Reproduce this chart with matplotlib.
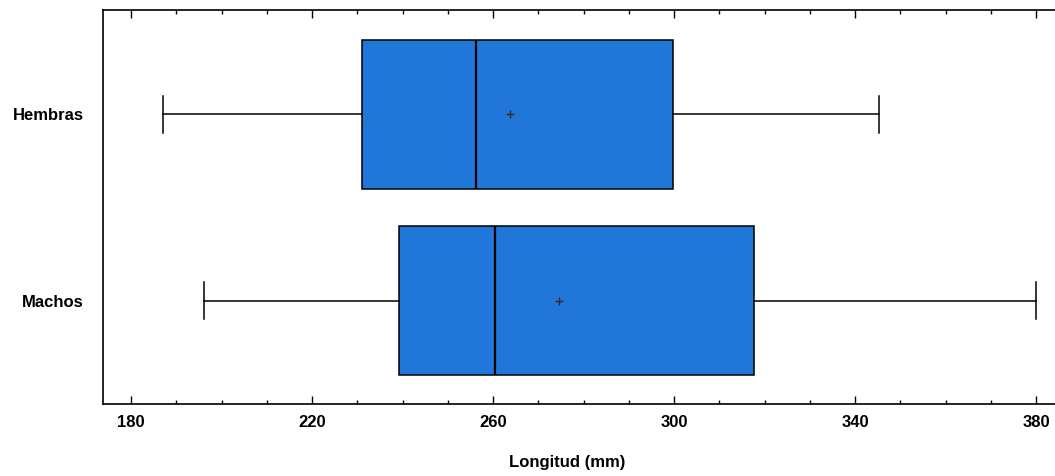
import matplotlib
matplotlib.use("Agg")
import matplotlib.pyplot as plt
from matplotlib.ticker import MultipleLocator

plt.rcParams['font.family'] = ['Liberation Sans', 'DejaVu Sans']

categories = ["Machos", "Hembras"]
whisker_low = [196.2, 187.1]
q1 = [239.1, 231.1]
median = [260.3, 256.3]
q3 = [317.6, 299.7]
whisker_high = [380.0, 345.3]
mean = [274.5, 263.8]
x_ticks = [180, 220, 260, 300, 340, 380]

stats = []
for i, c in enumerate(categories):
    stats.append(dict(label=c, whislo=whisker_low[i], q1=q1[i], med=median[i],
                      q3=q3[i], whishi=whisker_high[i], mean=mean[i], fliers=[]))

fig = plt.figure(figsize=(10.55, 4.76), dpi=100)
ax = fig.add_axes([103/1055, 1 - 404/476, (1058 - 103)/1055, 394/476])

lw = 1.1
ax.bxp(stats, positions=[0, 1], widths=0.8, vert=False, patch_artist=True,
       showmeans=True, capwidths=0.2,
       boxprops=dict(facecolor='#2176d9', edgecolor='black', linewidth=lw),
       medianprops=dict(color='black', linewidth=1.6),
       whiskerprops=dict(color='black', linewidth=lw),
       capprops=dict(color='black', linewidth=lw),
       meanprops=dict(marker='+', markeredgecolor='#3a2a1a', markersize=6, markeredgewidth=1.0))

ax.set_xlim(173.8, 384.8)
ax.set_ylim(-0.555, 1.56)
ax.set_yticks([0, 1])
ax.set_yticklabels(categories, fontweight='bold')
ax.set_xticks(x_ticks)
ax.set_xticklabels([str(t) for t in x_ticks], fontweight='bold')
ax.xaxis.set_minor_locator(MultipleLocator(10))
ax.tick_params(axis='x', which='major', direction='in', top=True, length=5.8, width=1.0,
               labelsize=12, pad=8)
ax.tick_params(axis='x', which='minor', direction='in', top=True, length=2.9, width=1.0)
ax.tick_params(axis='y', length=0, labelsize=12, pad=14)
for s in ax.spines.values():
    s.set_linewidth(1.2)
ax.spines['right'].set_visible(False)

ax.set_xlabel("Longitud (mm)", fontsize=12, fontweight='bold')
ax.xaxis.set_label_coords((567 - 103) / (1058 - 103), -(463 - 404) / 394, transform=ax.transAxes)
ax.xaxis.label.set_va('center')

fig.savefig("out.png", dpi=100)
